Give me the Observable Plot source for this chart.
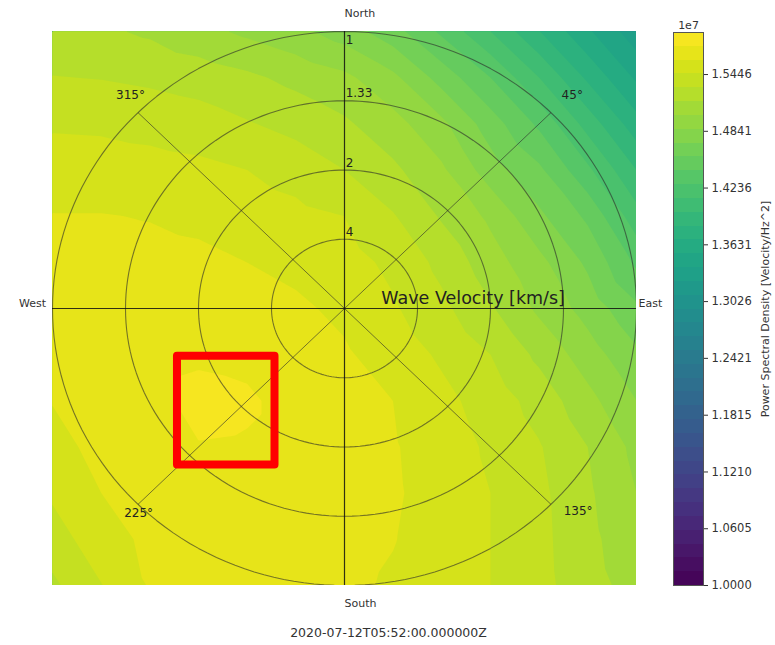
<!DOCTYPE html>
<html><head><meta charset="utf-8">
<script src="https://cdn.jsdelivr.net/npm/d3@7"></script>
<script src="https://cdn.jsdelivr.net/npm/@observablehq/plot@0.6"></script>
<style>
body{margin:0;background:#fff;}
#wrap{position:relative;width:775px;height:645px;}
#wrap svg{position:absolute;top:0;}
</style></head><body><div id="wrap"></div>
<script>
// Sample grid (slowness plane, normalized): columns west->east, rows north->south
const gridX = [-1, -0.8333, -0.6667, -0.5, -0.3333, -0.1667, 0, 0.1667, 0.3333, 0.5, 0.6667, 0.8333, 1];
const gridY = [1, 0.8333, 0.6667, 0.5, 0.3333, 0.1667, 0, -0.1667, -0.3333, -0.5, -0.6667, -0.8333, -1];
// Power spectral density in units of 1e7
const psd = [
  [1.5216, 1.5181, 1.5134, 1.5057, 1.4980, 1.4904, 1.4792, 1.4627, 1.4391, 1.4126, 1.3837, 1.3560, 1.3301],
  [1.5310, 1.5299, 1.5275, 1.5240, 1.5187, 1.5116, 1.5045, 1.4898, 1.4656, 1.4421, 1.4126, 1.3802, 1.3513],
  [1.5434, 1.5428, 1.5405, 1.5375, 1.5316, 1.5257, 1.5181, 1.5063, 1.4898, 1.4639, 1.4391, 1.4067, 1.3743],
  [1.5523, 1.5517, 1.5505, 1.5487, 1.5452, 1.5393, 1.5305, 1.5187, 1.5034, 1.4786, 1.4597, 1.4303, 1.3978],
  [1.5605, 1.5605, 1.5593, 1.5570, 1.5529, 1.5493, 1.5452, 1.5316, 1.5140, 1.4980, 1.4745, 1.4538, 1.4185],
  [1.5647, 1.5647, 1.5641, 1.5629, 1.5599, 1.5564, 1.5511, 1.5417, 1.5263, 1.5075, 1.4904, 1.4686, 1.4391],
  [1.5647, 1.5670, 1.5688, 1.5682, 1.5658, 1.5623, 1.5570, 1.5470, 1.5340, 1.5175, 1.4980, 1.4804, 1.4597],
  [1.5629, 1.5670, 1.5711, 1.5729, 1.5717, 1.5670, 1.5617, 1.5535, 1.5428, 1.5305, 1.5122, 1.4933, 1.4745],
  [1.5605, 1.5652, 1.5711, 1.5782, 1.5764, 1.5705, 1.5652, 1.5599, 1.5493, 1.5387, 1.5246, 1.5057, 1.4863],
  [1.5552, 1.5641, 1.5688, 1.5741, 1.5735, 1.5705, 1.5658, 1.5611, 1.5529, 1.5428, 1.5316, 1.5157, 1.4969],
  [1.5476, 1.5599, 1.5664, 1.5694, 1.5711, 1.5688, 1.5658, 1.5617, 1.5540, 1.5452, 1.5340, 1.5181, 1.5010],
  [1.5381, 1.5540, 1.5629, 1.5676, 1.5676, 1.5664, 1.5641, 1.5605, 1.5535, 1.5452, 1.5346, 1.5199, 1.5051],
  [1.5275, 1.5446, 1.5611, 1.5641, 1.5647, 1.5641, 1.5629, 1.5582, 1.5517, 1.5452, 1.5352, 1.5216, 1.5098]
];
const levelLow = 1.0, levelHigh = 1.5894, levelCount = 40;
const colorTicks = [1.0000, 1.0605, 1.1210, 1.1815, 1.2421, 1.3026, 1.3631, 1.4236, 1.4841, 1.5446];
const ringRadii = [0.25, 0.5, 0.75, 1];
const ringLabels = ["4", "2", "1.33", "1"];
const spokeAngles = [45, 135, 225, 315];
const spokeLabels = ["45°", "135°", "225°", "315°"];
const compassNames = ["North", "South", "West", "East"];
const highlightBox = [{x1: -0.572, x2: -0.238, y1: -0.172, y2: -0.565}];
const xLabel = "Wave Velocity [km/s]";
const title = "2020-07-12T05:52:00.000000Z";
const colorLabel = "Power Spectral Density [Velocity/Hz^2]";
const exponentLabel = "1e7";

const step = (levelHigh - levelLow) / levelCount;
const thresholds = d3.range(levelCount).map(k => levelLow + k * step);
const half = step / 2;
const colorScale = {type: "linear", scheme: "viridis", domain: [levelLow - half, levelHigh - half]};

const field = gridY.flatMap((y, j) => gridX.map((x, i) => ({x, y, v: psd[j][i]})));
const ringPoints = ringRadii.flatMap(r => d3.range(0, 361, 2).map(a => ({r, x: r * Math.sin(a * Math.PI / 180), y: r * Math.cos(a * Math.PI / 180)})));
const rad = a => a * Math.PI / 180;

// label layout
const spokeLabelPos = [[0.78, 0.77], [0.80, -0.73], [-0.705, -0.74], [-0.733, 0.769]];
const compassPos = [[0, 1.065], [0, -1.065], [-1.022, 0.018], [1.007, 0.018]];

const font = "DejaVu Sans, Verdana, sans-serif";
const textOf = d => d;

const main = Plot.plot({
  width: 775, height: 645,
  marginLeft: 52, marginRight: 139, marginTop: 31, marginBottom: 60,
  x: {domain: [-1, 1], axis: null},
  y: {domain: [-1, 1], axis: null},
  color: colorScale,
  style: {fontFamily: font, fontSize: "11px", color: "#222", background: "white"},
  marks: [
    Plot.contour(field, {x: "x", y: "y", fill: "v", interpolate: "barycentric", thresholds, pixelSize: 1, stroke: "none", clip: true}),
    Plot.line(ringPoints, {x: "x", y: "y", z: "r", stroke: "#2a2a2a", strokeOpacity: 0.6, strokeWidth: 1.1, clip: true}),
    Plot.link(spokeAngles, {x1: () => 0, y1: () => 0, x2: a => Math.sin(rad(a)), y2: a => Math.cos(rad(a)), stroke: "#2a2a2a", strokeOpacity: 0.6, strokeWidth: 1}),
    Plot.ruleX([0], {stroke: "#111", strokeWidth: 1.2, strokeOpacity: 0.85}),
    Plot.ruleY([0], {stroke: "#111", strokeWidth: 1.2, strokeOpacity: 0.85}),
    Plot.rect(highlightBox, {x1: "x1", x2: "x2", y1: "y1", y2: "y2", fill: "none", stroke: "#ff0000", strokeWidth: 8, strokeLinejoin: "round"}),
    Plot.text(ringLabels, {x: () => 0.004, y: (d, i) => ringRadii[i] < 1 ? ringRadii[i] + 0.026 : 0.968, text: textOf, textAnchor: "start", fontSize: 12, fill: "#222"}),
    Plot.text(spokeLabels, {x: (d, i) => spokeLabelPos[i][0], y: (d, i) => spokeLabelPos[i][1], text: textOf, textAnchor: "middle", fontSize: 12, fill: "#222"}),
    Plot.text(compassNames.slice(0, 2), {x: (d, i) => compassPos[i][0], y: (d, i) => compassPos[i][1], text: textOf, textAnchor: "start", fontSize: 11, fill: "#333"}),
    Plot.text(compassNames.slice(2, 3), {x: () => compassPos[2][0], y: () => compassPos[2][1], text: textOf, textAnchor: "end", fontSize: 11, fill: "#333"}),
    Plot.text(compassNames.slice(3, 4), {x: () => compassPos[3][0], y: () => compassPos[3][1], text: textOf, textAnchor: "start", fontSize: 11, fill: "#333"}),
    Plot.text([xLabel], {x: () => 0.126, y: () => 0.036, text: textOf, textAnchor: "start", fontSize: 17.5, fill: "#222"}),
    Plot.text([title], {frameAnchor: "bottom", dx: 44, dy: 51, text: textOf, textAnchor: "middle", fontSize: 12.5, fill: "#333"})
  ]
});
main.style.left = "0px";
document.getElementById("wrap").appendChild(main);

const bands = thresholds.map(v => ({y1: v, y2: v + step, v}));
const bar = Plot.plot({
  width: 135, height: 645,
  marginLeft: 33, marginRight: 72, marginTop: 32, marginBottom: 60,
  x: {domain: [0, 1], axis: null},
  y: {domain: [levelLow, levelHigh], axis: "right", ticks: colorTicks, tickFormat: d => d.toFixed(4), tickSize: 4, tickPadding: 4, label: null},
  color: colorScale,
  style: {fontFamily: font, fontSize: "11.5px", color: "#333", background: "transparent"},
  marks: [
    Plot.rect(bands, {x1: () => 0, x2: () => 1, y1: "y1", y2: "y2", fill: "v", inset: 0, shapeRendering: "crispEdges"}),
    Plot.frame({stroke: "#555", strokeWidth: 1}),
    Plot.text([exponentLabel], {frameAnchor: "top", dy: -11, text: textOf, textAnchor: "middle", fontSize: 11, fill: "#333"}),
    Plot.text([colorLabel], {frameAnchor: "right", dx: 62, rotate: -90, text: textOf, textAnchor: "middle", fontSize: 11, fill: "#333"})
  ]
});
bar.style.left = "640px";
document.getElementById("wrap").appendChild(bar);
</script>
</body></html>
